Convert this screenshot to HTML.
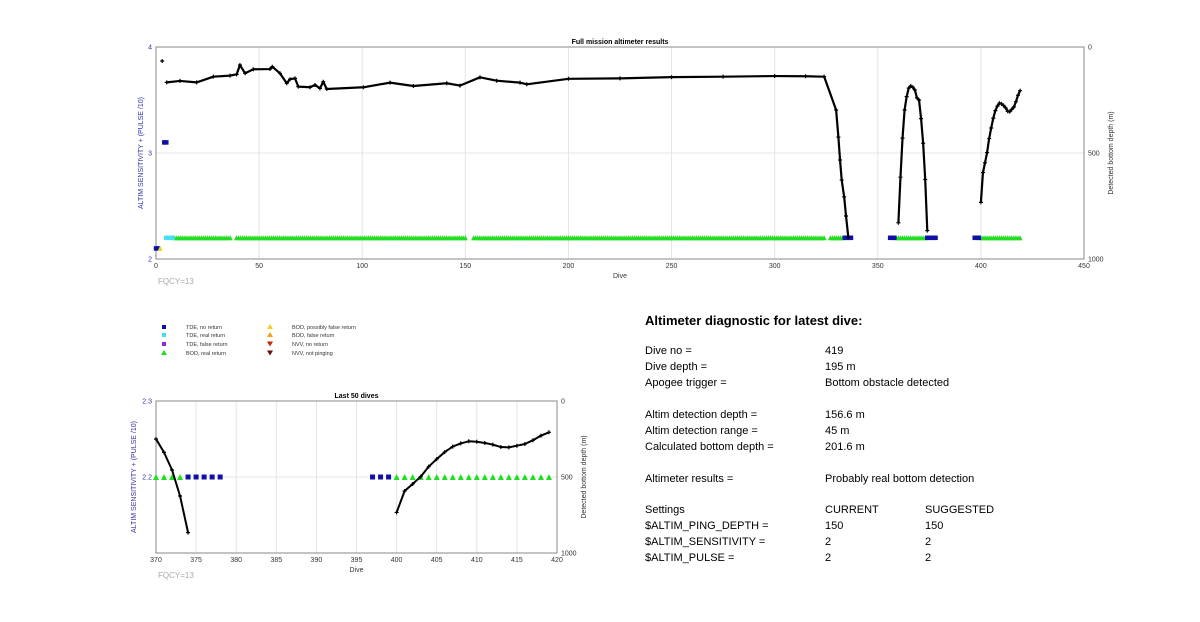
<!DOCTYPE html>
<html><head><meta charset="utf-8">
<style>
html,body{margin:0;padding:0;background:#fff;}
body{width:1200px;height:622px;overflow:hidden;position:relative;font-family:"Liberation Sans",Arial,sans-serif;}
svg{position:absolute;left:0;top:0;}
.info{position:absolute;font-size:11px;color:#000;white-space:nowrap;}
</style></head><body>
<svg id="chart" width="1200" height="622"></svg>

<div class="info" style="left:645px;top:313px;font-size:13px;font-weight:bold;">Altimeter diagnostic for latest dive:</div>
<div id="info"></div>

<script>
// ---------- data ----------
const mainDives  = [3,5.2,11.6,19.7,27.8,35.9,39.1,40.7,43.2,47.2,55.3,56.4,60.1,63.4,65,67.4,69,74.7,77.1,79.5,81.1,82.8,100.6,113.5,124.8,141,147.4,157.1,165.2,176.5,179.8,200,225,250,275,300,315,324,329.8,330.9,331.7,332.5,333.7,334.6,335.7];
const mainDepths = [66,167,160,167,140,135,129,85,124,105,104,93,124,171,152,148,187,190,179,195,164,198,190,168,184,171,182,143,159,168,176,150,148,142,140,137,138,140,297,425,533,627,707,797,896];
const humpDives  = [360,361,362,363,364,365,366,367,368,369,370,371,372,373,374];
const humpDepths = [829,614,430,297,234,194,184,190,203,240,250,338,454,625,866];
const lastDives  = [400,401,402,403,404,405,406,407,408,409,410,411,412,413,414,415,416,417,418,419];
const lastDepths = [733,592,546,498,432,382,336,300,279,265,268,276,287,303,305,294,283,258,228,206];
// marker segments: [startDive, endDive, value]
const greenSegs = [[9,36,2.2],[39,150,2.2],[154,324,2.2],[327,333,2.2],[359,373,2.2],[400,419,2.2]];
const blueSegs  = [[0,1,2.1],[4,5,3.1],[334,337,2.2],[356,358,2.2],[374,378,2.2],[397,399,2.2]];
const cyanSegs  = [[5,8,2.2]];
const yellowPts = [[2,2.1]];
const topXTicks = [0,50,100,150,200,250,300,350,400,450];
const topYTicks = [2,3,4];
const topDepthTicks = [0,500,1000];
const botXTicks = [370,375,380,385,390,395,400,405,410,415,420];
const botYTicks = [2.2,2.3];

const svg = document.getElementById('chart');
const NS = 'http://www.w3.org/2000/svg';
function mk(tag, attrs, parent){const e=document.createElementNS(NS,tag);for(const k in attrs)e.setAttribute(k,attrs[k]);(parent||svg).appendChild(e);return e;}
function txt(x,y,s,attrs){const t=mk('text',Object.assign({x:x,y:y,'font-size':7,'font-family':'Liberation Sans, Arial, sans-serif'},attrs||{}));t.textContent=s;return t;}

function drawChart(o){
  const g = mk('g',{});
  
  
  const X = d => o.x0 + (d - o.xmin)/(o.xmax - o.xmin)*(o.x1 - o.x0);
  const Y = v => o.y1 - (v - o.ymin)/(o.ymax - o.ymin)*(o.y1 - o.y0);
  const D = d => o.y0 + d/1000*(o.y1 - o.y0);
  o.xt.forEach(t=>{const l=mk('line',{x1:X(t),x2:X(t),y1:o.y0,y2:o.y1,stroke:'#e4e4e4','stroke-width':1},g);
    
    const tl=txt(X(t),o.y1+9,String(t),{'text-anchor':'middle',fill:'#333'});g.appendChild(tl);
    });
  o.yt.forEach(t=>{const l=mk('line',{x1:o.x0,x2:o.x1,y1:Y(t),y2:Y(t),stroke:'#e4e4e4','stroke-width':1},g);
    
    const tl=txt(o.x0-4,Y(t)+2.5,String(t),{'text-anchor':'end',fill:'#3333aa'});g.appendChild(tl);
    });
  o.dt.forEach(t=>{const tl=txt(o.x1+4,D(t)+2.5,String(t),{fill:'#333'});g.appendChild(tl);
    });
  const box=mk('rect',{x:o.x0,y:o.y0,width:o.x1-o.x0,height:o.y1-o.y0,fill:'none',stroke:'#888','stroke-width':1},g);
  
  const clip = v => v>=o.xmin && v<=o.xmax;
  const sq=(d,v,c)=>{if(!clip(d))return;const s=o.sq;const r=mk('rect',{x:X(d)-s/2,y:Y(v)-s/2,width:s,height:s,fill:c},g);
    };
  const tri=(d,v,c)=>{if(!clip(d))return;const s=o.tr;const cx=X(d),cy=Y(v);
    const p=mk('polygon',{points:`${cx},${cy-s/2} ${cx-s/2},${cy+s/2} ${cx+s/2},${cy+s/2}`,fill:c},g);
    };
  greenSegs.forEach(s=>{for(let d=s[0];d<=s[1];d++)tri(d,s[2],'#22dd22');});
  blueSegs.forEach(s=>{for(let d=s[0];d<=s[1];d++)sq(d,s[2],'#1010a8');});
  cyanSegs.forEach(s=>{for(let d=s[0];d<=s[1];d++)sq(d,s[2],'#44e0f0');});
  yellowPts.forEach(p=>tri(p[0],p[1],'#f0d020'));
  const series=[[mainDives,mainDepths],[humpDives,humpDepths],[lastDives,lastDepths]];
  series.forEach(([ds,vs],si)=>{
    const pts=[];ds.forEach((d,i)=>{if(clip(d))pts.push([X(d),D(vs[i]),d]);});
    if(!pts.length)return;
    const line=pts.filter(p=>!(si===0&&p[2]<4));
    if(line.length>1){const pl=mk('polyline',{points:line.map(p=>p[0]+','+p[1]).join(' '),fill:'none',stroke:'#000','stroke-width':o.lw,'stroke-linejoin':'round'},g);
      }
    pts.forEach(p=>{const c=mk('path',{d:`M${p[0]-2},${p[1]}h4M${p[0]},${p[1]-2}v4`,stroke:'#000','stroke-width':1.2},g);
      });
  });
  const ti=txt((o.x0+o.x1)/2,o.y0-3,o.title,{'text-anchor':'middle','font-weight':'bold','font-size':7});g.appendChild(ti);
  
  const xl=txt((o.x0+o.x1)/2,o.y1+19,'Dive',{'text-anchor':'middle',fill:'#333'});g.appendChild(xl);
  
  const yl=txt(0,0,'ALTIM SENSITIVITY + (PULSE /10)',{'text-anchor':'middle',fill:'#3333aa',transform:`translate(${o.x0-o.yto},${(o.y0+o.y1)/2}) rotate(-90)`});g.appendChild(yl);
  
  const rl=txt(0,0,'Detected bottom depth (m)',{'text-anchor':'middle',fill:'#333',transform:`translate(${o.x1+29},${(o.y0+o.y1)/2}) rotate(-90)`});g.appendChild(rl);
  
  const fq=txt(o.x0+2,o.y1+25,'FQCY=13',{fill:'#aaa','font-size':8});g.appendChild(fq);
  
}

drawChart({name:'full-mission-chart',title:'Full mission altimeter results',x0:156,x1:1084,y0:47,y1:259,xmin:0,xmax:450,ymin:2,ymax:4,xt:topXTicks,yt:topYTicks,dt:topDepthTicks,sq:4.5,tr:5,lw:2.2,yto:13});
drawChart({name:'last-50-dives-chart',title:'Last 50 dives',x0:156,x1:557,y0:401,y1:553,xmin:370,xmax:420,ymin:2.1,ymax:2.3,xt:botXTicks,yt:botYTicks,dt:topDepthTicks,sq:5,tr:6,lw:2,yto:20});

const legendItems=[
 [164,327,'sq','#1010a8','TDE, no return'],[164,335,'sq','#44e0f0','TDE, real return'],[164,344,'sq','#8a2be2','TDE, false return'],[164,353,'up','#22dd22','BOD, real return'],
 [270,327,'up','#f0d020','BOD, possibly false return'],[270,335,'up','#f0a020','BOD, false return'],[270,344,'dn','#cc2200','NVV, no return'],[270,353,'dn','#6b0a0a','NVV, not pinging']];
const lg=mk('g',{});


legendItems.forEach(it=>{
  const [x,y,k,c,l]=it;let m;
  if(k==='sq')m=mk('rect',{x:x-2,y:y-2,width:4,height:4,fill:c},lg);
  else if(k==='up')m=mk('polygon',{points:`${x},${y-3} ${x-3},${y+2} ${x+3},${y+2}`,fill:c},lg);
  else m=mk('polygon',{points:`${x},${y+2.5} ${x-3},${y-2.5} ${x+3},${y-2.5}`,fill:c},lg);
  
  
  const t=txt(x+22,y+2,l,{'font-size':5.5,fill:'#333'});lg.appendChild(t);
  
  
});

const rows=[
 [352,'Dive no =','419',''],[368,'Dive depth =','195 m',''],[384,'Apogee trigger =','Bottom obstacle detected',''],
 [416,'Altim detection depth =','156.6 m',''],[432,'Altim detection range =','45 m',''],[448,'Calculated bottom depth =','201.6 m',''],
 [480,'Altimeter results =','Probably real bottom detection',''],
 [511,'Settings','CURRENT','SUGGESTED'],[527,'$ALTIM_PING_DEPTH =','150','150'],[543,'$ALTIM_SENSITIVITY =','2','2'],[559,'$ALTIM_PULSE =','2','2']];
const info=document.getElementById('info');
rows.forEach(r=>{
  [[645,r[1],'label'],[825,r[2],'value'],[925,r[3],'suggested']].forEach(c=>{
    if(!c[1])return;
    const d=document.createElement('div');d.className='info';
    d.style.left=c[0]+'px';d.style.top=(r[0]-7)+'px';d.textContent=c[1];
    
    
    info.appendChild(d);
  });
});
</script>
</body></html>
